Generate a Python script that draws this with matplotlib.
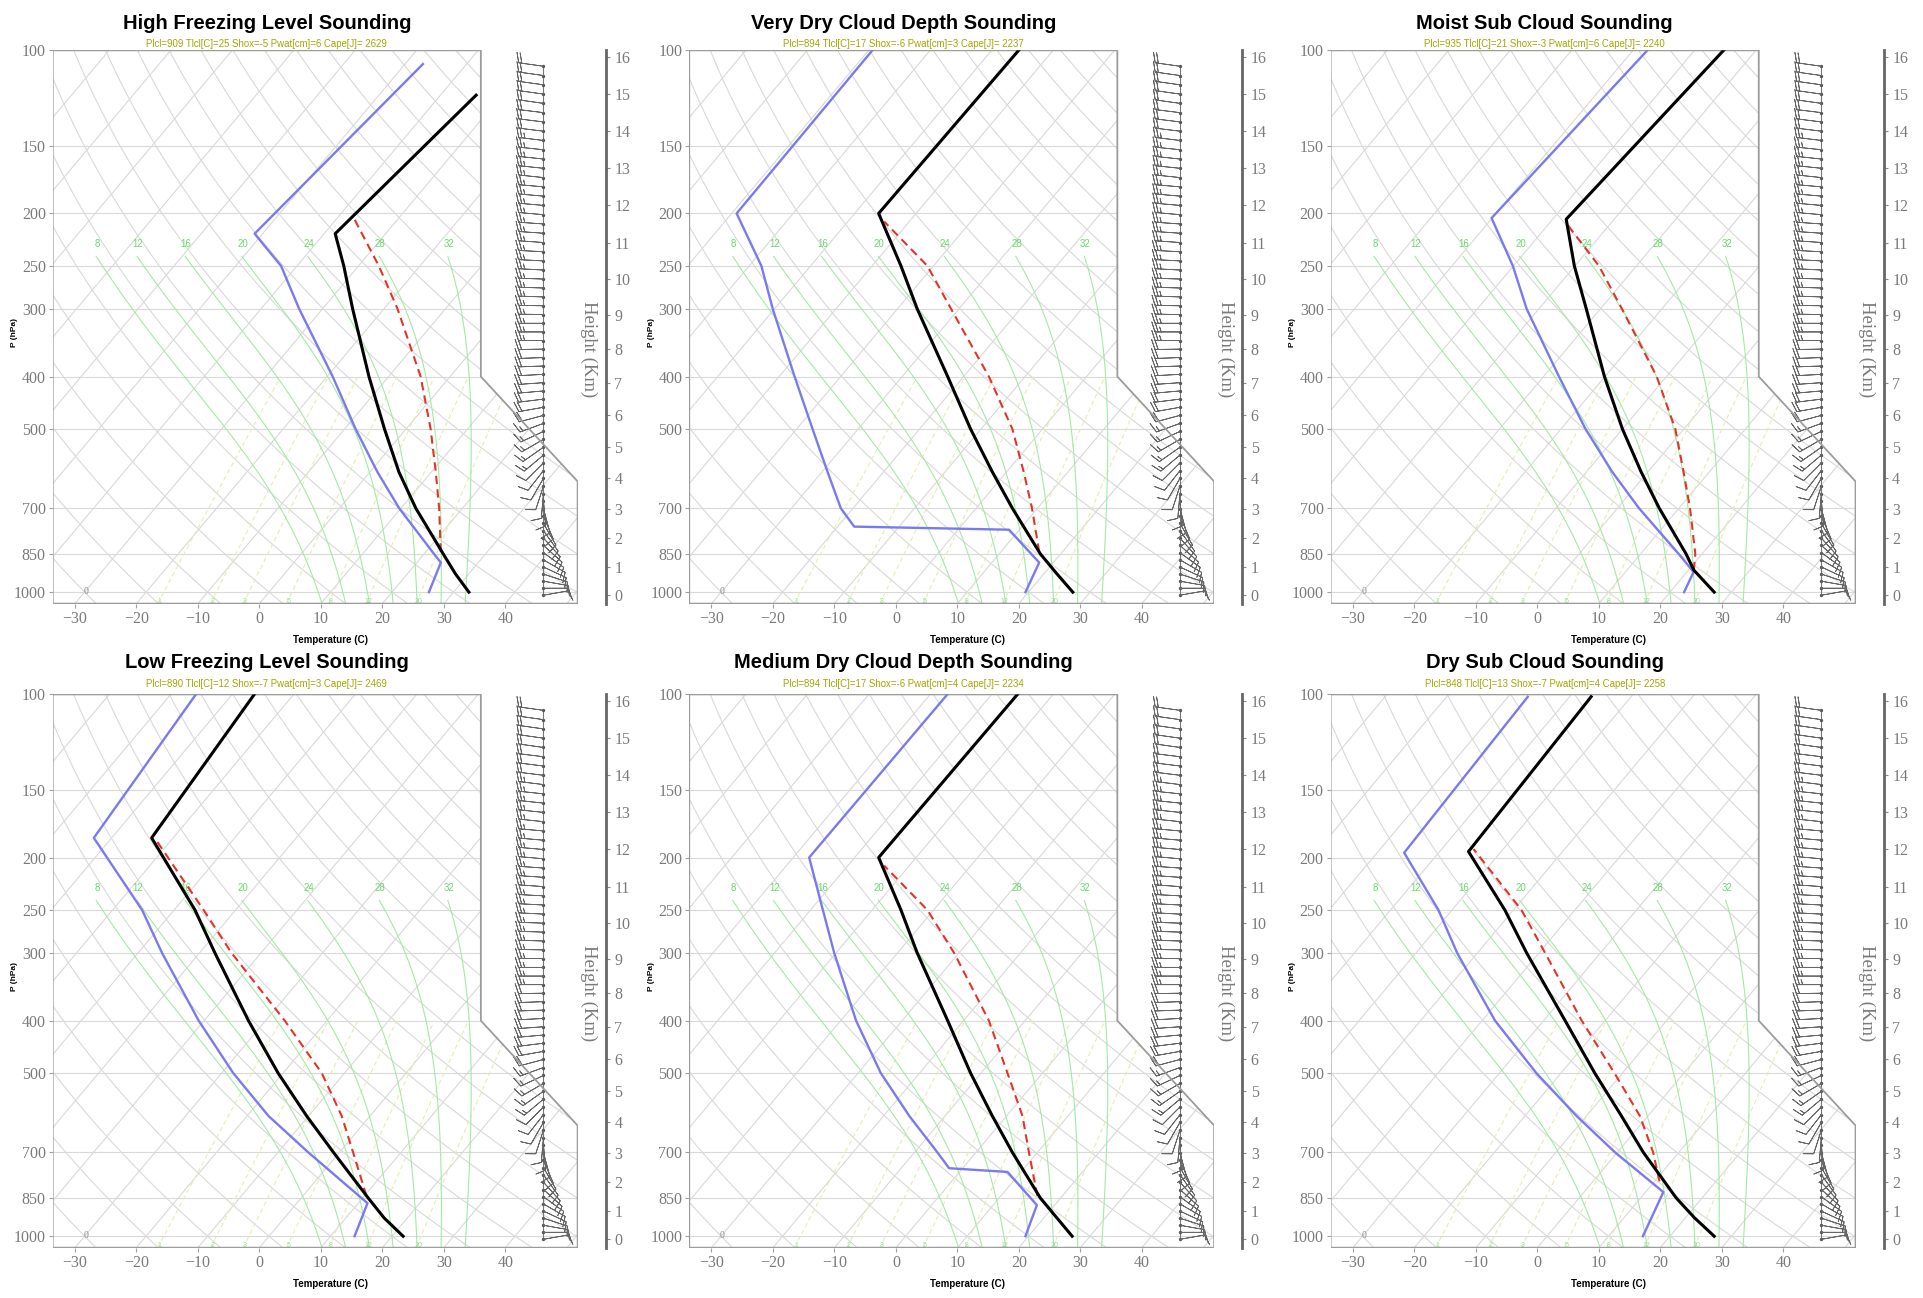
import numpy as np
import matplotlib.pyplot as plt
from matplotlib.patches import Polygon

titles = ["High Freezing Level Sounding", "Very Dry Cloud Depth Sounding", "Moist Sub Cloud Sounding",
          "Low Freezing Level Sounding", "Medium Dry Cloud Depth Sounding", "Dry Sub Cloud Sounding"]
subtitles = ["Plcl=909 Tlcl[C]=25 Shox=-5 Pwat[cm]=6 Cape[J]= 2629",
             "Plcl=894 Tlcl[C]=17 Shox=-6 Pwat[cm]=3 Cape[J]= 2237",
             "Plcl=935 Tlcl[C]=21 Shox=-3 Pwat[cm]=6 Cape[J]= 2240",
             "Plcl=890 Tlcl[C]=12 Shox=-7 Pwat[cm]=3 Cape[J]= 2469",
             "Plcl=894 Tlcl[C]=17 Shox=-6 Pwat[cm]=4 Cape[J]= 2234",
             "Plcl=848 Tlcl[C]=13 Shox=-7 Pwat[cm]=4 Cape[J]= 2258"]

# temperature (black), dew point (blue), parcel (red dashed): pressure hPa / temperature C
hi_temp_p = [1000, 925, 850, 700, 600, 500, 400, 300, 250, 218, 121]
hi_temp_t = [32.5, 27.8, 23.1, 12.4, 4.7, -3.5, -13.2, -25.1, -32.4, -38.2, -34.2]
hi_dew_p = [1000, 882, 850, 700, 600, 500, 400, 300, 250, 218, 106]
hi_dew_t = [26.0, 23.9, 21.6, 9.7, 1.2, -8.2, -19.1, -33.8, -42.6, -51.3, -47.1]
hi_par_p = [842, 700, 600, 500, 400, 300, 250, 204]
hi_par_t = [22.4, 16.2, 10.7, 4.0, -4.8, -17.8, -26.7, -37.3]

vd_temp_p = [1000, 925, 850, 700, 600, 500, 400, 300, 250, 200, 99]
vd_temp_t = [27.2, 22.1, 16.7, 5.9, -2.3, -11.7, -22.6, -36.8, -45.3, -56.1, -55.6]
vd_dew_p = [1000, 882, 767, 757, 700, 600, 500, 400, 300, 250, 200, 99]
vd_dew_t = [19.5, 17.7, 8.3, -17.3, -22.0, -29.1, -37.4, -47.5, -60.3, -68.0, -79.2, -79.4]
vd_par_p = [842, 700, 600, 500, 400, 300, 250, 207]
vd_par_t = [16.2, 9.1, 2.8, -4.9, -15.9, -31.3, -41.0, -54.1]

ms_temp_p = [1000, 911, 850, 700, 600, 500, 400, 300, 250, 205, 98]
ms_temp_t = [27.2, 20.9, 17.4, 6.8, -1.1, -10.0, -20.1, -32.3, -40.1, -47.8, -45.2]
ms_dew_p = [1000, 918, 850, 700, 600, 500, 400, 300, 250, 204, 98]
ms_dew_t = [22.3, 21.1, 16.2, 3.5, -5.8, -16.0, -27.5, -42.0, -50.1, -60.1, -57.6]
ms_par_p = [911, 850, 700, 600, 500, 400, 300, 250, 210]
ms_par_t = [20.9, 18.9, 11.8, 5.8, -1.4, -11.6, -26.5, -36.1, -46.8]

lo_temp_p = [1000, 925, 850, 700, 600, 500, 400, 300, 250, 184, 98]
lo_temp_t = [21.8, 16.2, 10.9, -1.0, -10.3, -20.8, -32.8, -47.5, -56.6, -73.5, -76.5]
lo_dew_p = [1000, 869, 850, 700, 600, 500, 400, 300, 250, 184, 98]
lo_dew_t = [13.9, 11.5, 9.8, -5.1, -16.5, -28.1, -40.9, -56.1, -65.2, -82.9, -86.0]
lo_par_p = [842, 700, 600, 500, 400, 300, 250, 185]
lo_par_t = [10.3, 2.2, -4.6, -13.7, -26.9, -44.8, -55.2, -72.7]

md_temp_p = [1000, 925, 850, 700, 600, 500, 400, 300, 250, 200, 99]
md_temp_t = [27.1, 22.1, 16.7, 5.9, -2.3, -11.7, -22.6, -36.8, -45.3, -56.1, -55.8]
md_dew_p = [1000, 876, 761, 749, 700, 600, 500, 400, 300, 250, 200, 99]
md_dew_t = [19.5, 17.1, 7.8, -2.2, -6.3, -15.8, -26.3, -37.5, -50.3, -58.0, -67.4, -67.2]
md_par_p = [842, 700, 600, 500, 400, 300, 250, 207]
md_par_t = [15.9, 8.6, 2.6, -5.7, -15.9, -30.8, -41.0, -54.1]

ds_temp_p = [1000, 925, 850, 700, 600, 500, 400, 300, 250, 195, 101]
ds_temp_t = [27.2, 21.5, 15.8, 4.2, -4.3, -14.5, -26.5, -42.0, -51.4, -65.3, -66.5]
ds_dew_p = [1000, 829, 700, 600, 500, 400, 300, 250, 196, 101]
ds_dew_t = [15.6, 12.9, -0.4, -11.6, -24.0, -37.9, -53.3, -62.2, -75.6, -76.8]
ds_par_p = [792, 700, 600, 500, 400, 300, 250, 193]
ds_par_t = [10.8, 5.8, -1.3, -11.3, -23.8, -39.0, -48.7, -64.8]

# wind profile shared by all panels (height km, direction deg, speed kt)
barb_km = [i * 0.25 for i in range(64)]
barb_dir = [80, 90, 100, 108, 115, 120, 126, 132, 138, 144, 150, 157, 165, 175, 185, 198,
            210, 218, 225, 230, 235, 240, 245, 250, 255, 260, 263,
            265, 266, 267, 268, 268, 269, 270, 270, 270, 271, 271, 272, 272, 272, 273, 273,
            273, 274, 274, 274, 275, 275, 275, 275, 276, 276, 276, 276, 277, 277, 277, 277,
            278, 278, 278, 278, 278]
barb_spd = [8, 10, 12, 12, 12, 12, 12, 12, 12, 11, 11, 10, 10, 9, 8, 8,
            10, 11, 12, 13, 14, 15, 16, 17, 18, 19, 20,
            20, 21, 21, 22, 22, 22, 23, 23, 23, 24, 24, 24, 24, 25, 25, 25,
            25, 25, 25, 25, 25, 25, 24, 24, 24, 24, 23, 23, 23, 22, 22, 22,
            21, 21, 20, 20, 20]

soundings = [(hi_temp_p, hi_temp_t, hi_dew_p, hi_dew_t, hi_par_p, hi_par_t),
             (vd_temp_p, vd_temp_t, vd_dew_p, vd_dew_t, vd_par_p, vd_par_t),
             (ms_temp_p, ms_temp_t, ms_dew_p, ms_dew_t, ms_par_p, ms_par_t),
             (lo_temp_p, lo_temp_t, lo_dew_p, lo_dew_t, lo_par_p, lo_par_t),
             (md_temp_p, md_temp_t, md_dew_p, md_dew_t, md_par_p, md_par_t),
             (ds_temp_p, ds_temp_t, ds_dew_p, ds_dew_t, ds_par_p, ds_par_t)]

p_ticks = [100, 150, 200, 250, 300, 400, 500, 700, 850, 1000]
t_ticks = [-30, -20, -10, 0, 10, 20, 30, 40]
thw_lines = [8, 12, 16, 20, 24, 28, 32]
mix_lines = [1, 2, 3, 5, 8, 12, 20]


# skew-T geometry (same as the NCL skewT background)
def ypos(p):
    return 132.182 - 44.061 * np.log10(np.asarray(p, float))


def xpos(t, p):
    return 0.54 * np.asarray(t, float) + 0.90692 * ypos(p)


def km_to_p(z):
    z = np.asarray(z, float) * 1000.0
    with np.errstate(all='ignore'):
        low = 1013.25 * np.clip(1 - 2.25577e-5 * z, 1e-6, None) ** 5.25588
        high = 226.32 * np.exp(-(z - 11000.0) / 6341.6)
    return np.where(z <= 11000, low, high)


def y_to_km(y):
    p = 10 ** ((132.182 - np.asarray(y, float)) / 44.061)
    with np.errstate(all='ignore'):
        low = (1 - (p / 1013.25) ** (1 / 5.25588)) / 2.25577e-5
        high = 11000.0 + 6341.6 * np.log(226.32 / p)
    return np.where(p >= 226.32, low, high) / 1000.0


def km_to_y(z):
    return ypos(km_to_p(z))


def moist_adiabat(thw, p_top=240.0):
    Rd, Cp, Lv, eps = 287.04, 1005.7, 2.501e6, 0.622

    def slope(T, p):
        es = 6.112 * np.exp(17.67 * (T - 273.15) / (T - 29.65))
        rs = eps * es / (p - es)
        return (Rd * T + Lv * rs) / (p * (Cp + Lv * Lv * rs * eps / (Rd * T * T)))

    out_p, out_t = [1000.0], [thw + 273.15]
    for p_end, step in ((p_top, -2.0), (1050.0, 2.0)):
        T, p = thw + 273.15, 1000.0
        pp, tt = [], []
        while (p - p_end) * np.sign(step) < 0:
            k1 = slope(T, p)
            k2 = slope(T + k1 * step, p + step)
            T += 0.5 * (k1 + k2) * step
            p += step
            pp.append(p)
            tt.append(T)
        if step < 0:
            out_p = pp[::-1] + out_p
            out_t = tt[::-1] + out_t
        else:
            out_p = out_p + pp
            out_t = out_t + tt
    return np.array(out_p), np.array(out_t) - 273.15


X0, X1, Y0, Y1 = -19.0, 27.1, -0.9346, 44.061
XS = 18.6
XB = 24.1
outline = [(X0, Y0), (X1, Y0), (X1, 9.0), (XS, 17.53), (XS, Y1), (X0, Y1)]

fig = plt.figure(figsize=(19.23, 12.98), dpi=100)
W, H = 428 / 1568, 451 / 1058
lefts = [43 / 1568, 562 / 1568, 1085 / 1568]
bottoms = [1 - 492 / 1058, 1 - 1017 / 1058]
title_y = [(1.049, 1.011), (1.057, 1.019)]

serif = 'Liberation Serif'
sans = 'Liberation Sans'
grid_c = '#d9d9d9'
lab_c = '#7a7a7a'
pfull = np.linspace(1050, 100, 200)

for k in range(6):
    ax = fig.add_axes([lefts[k % 3], bottoms[k // 3], W, H])
    ax.set_xlim(X0, X1)
    ax.set_ylim(Y0, Y1)
    for s in ax.spines.values():
        s.set_visible(False)

    frame = Polygon(outline, closed=True, fill=False, edgecolor='#9c9c9c', lw=1.3, zorder=5)
    ax.add_patch(frame)
    clip = Polygon(outline, closed=True, transform=ax.transData)

    lines = []
    for p in p_ticks:
        lines += ax.plot([X0, X1], [ypos(p)] * 2, color=grid_c, lw=0.8)
    for t in range(-110, 60, 10):
        lines += ax.plot(xpos([t, t], [1050, 100]), ypos([1050, 100]), color=grid_c, lw=0.8)
    for th in range(-30, 200, 10):
        tt = (th + 273.15) * (pfull / 1000.0) ** 0.2857 - 273.15
        lines += ax.plot(xpos(tt, pfull), ypos(pfull), color=grid_c, lw=0.8)
    pm = np.linspace(1050, 400, 60)
    for w in mix_lines:
        es = w / 1000.0 * pm / (0.622 + w / 1000.0)
        lg = np.log(es / 6.112)
        tm = 243.5 * lg / (17.67 - lg)
        lines += ax.plot(xpos(tm, pm), ypos(pm), color='#e6ecb0', lw=0.8, ls=(0, (4, 3)))
        ax.text(xpos(tm[0], 1040), ypos(1040), str(w), color='#8fdf8f', fontsize=5,
                ha='center', va='center', fontfamily=sans)
    for thw in thw_lines:
        pp, tt = moist_adiabat(thw)
        lines += ax.plot(xpos(tt, pp), ypos(pp), color='#a3eaa3', lw=0.8)
        ax.text(xpos(tt[0] - 1.5, 228), ypos(228), str(thw), color='#66dd66', fontsize=7,
                ha='center', va='center', fontfamily=sans)

    tp, tt_, dp, dt, pp_, pt = soundings[k]
    lines += ax.plot(xpos(dt, dp), ypos(dp), color='#7a7aee', lw=1.7, zorder=6)
    lines += ax.plot(xpos(pt, pp_), ypos(pp_), color='#e3342a', lw=1.5, ls=(0, (4, 2.5)), zorder=7)
    lines += ax.plot(xpos(tt_, tp), ypos(tp), color='black', lw=2.2, zorder=8)
    for ln in lines:
        ln.set_clip_path(clip)

    ax.text(-16.1, 0.05, '0', color='#888888', fontsize=7, ha='center', va='center', fontfamily=serif)

    # wind barbs
    spd = np.array(barb_spd, float)
    ang = np.radians(barb_dir)
    u = -spd * np.sin(ang)
    v = -spd * np.cos(ang)
    yb = km_to_y(barb_km)
    ax.plot([XB, XB], [yb[0], yb[-1]], color='#777777', lw=0.8, zorder=3)
    ax.plot(np.full(len(yb), XB), yb, 'o', color='#555555', ms=1.4, zorder=4)
    ax.barbs(np.full(len(yb), XB), yb, u, v, length=6.0, color='#666666', lw=0.6,
             sizes=dict(emptybarb=0.0), clip_on=False, zorder=4)

    ax.set_xticks(xpos(t_ticks, 1050))
    ax.set_xticklabels([str(t).replace('-', '\u2212') for t in t_ticks], fontfamily=serif,
                       fontsize=11.5, color=lab_c)
    ax.set_yticks(ypos(p_ticks))
    ax.set_yticklabels([str(p) for p in p_ticks], fontfamily=serif, fontsize=11.5, color=lab_c)
    ax.tick_params(direction='out', length=3, width=0.8, color='#a0a0a0', pad=2)

    ax.text(-0.072, 0.49, 'P (hPa)', transform=ax.transAxes, rotation=90, fontsize=6,
            fontweight='bold', ha='center', va='center', fontfamily=sans)
    ax.text(0.53, -0.065, 'Temperature (C)', transform=ax.transAxes, fontsize=7,
            fontweight='bold', ha='center', va='center', fontfamily=sans)

    sec = ax.secondary_yaxis(1.054, functions=(y_to_km, km_to_y))
    sec.set_yticks(range(17))
    sec.set_yticklabels([str(i) for i in range(17)], fontfamily=serif, fontsize=11.5, color=lab_c)
    for s in sec.spines.values():
        s.set_color('#666666')
        s.set_linewidth(2.0)
    sec.tick_params(direction='out', length=3, width=0.8, color='#888888', pad=3)
    ax.text(1.021, 0.46, 'Height (Km)', transform=ax.transAxes, rotation=-90, fontsize=13.5,
            color=lab_c, ha='center', va='center', fontfamily=serif)

    cx = ((X0 + XS) / 2 - X0) / (X1 - X0)
    ty, sy = title_y[k // 3]
    ax.text(cx, ty, titles[k], transform=ax.transAxes, fontsize=14.5, fontweight='bold',
            ha='center', va='center', fontfamily=sans)
    ax.text(cx, sy, subtitles[k], transform=ax.transAxes, fontsize=6.9, color='#a5a500',
            ha='center', va='center', fontfamily=sans)

fig.savefig('out.png', dpi=100)
